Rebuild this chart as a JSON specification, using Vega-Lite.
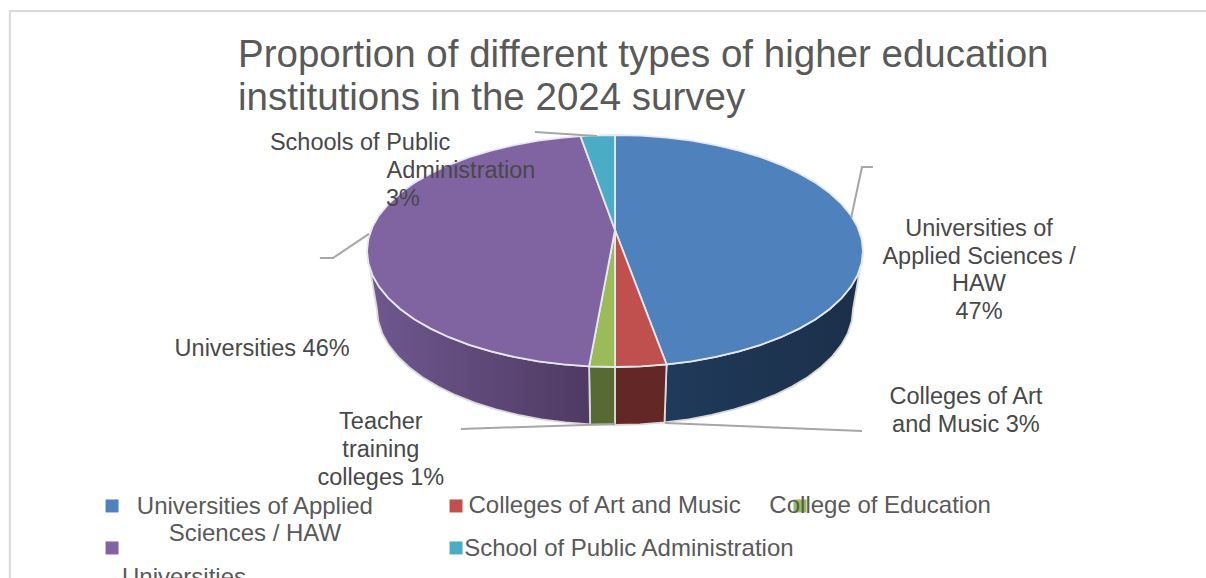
{
"$schema":"https://vega.github.io/schema/vega-lite/v6.json",
"width":1206,"height":578,"autosize":"none","padding":0,"background":"white",
"title":{"text":["Proportion of different types of higher education","institutions in the 2024 survey"],"anchor":"start","frame":"group","dx":238,"offset":-118,"baseline":"top","font":"Liberation Sans","fontSize":38.5,"fontWeight":"normal","color":"#595959","lineHeight":43,"limit":1000},
"config":{"view":{"stroke":null},"font":"Liberation Sans"},
"datasets":{
"top":[
{"slice":"haw","step":0,"x":0,"y":0.181},{"slice":"haw","step":1,"x":0,"y":1},{"slice":"haw","step":2,"x":0.1045,"y":0.9945},{"slice":"haw","step":3,"x":0.2079,"y":0.9781},{"slice":"haw","step":4,"x":0.309,"y":0.9511},{"slice":"haw","step":5,"x":0.4067,"y":0.9135},{"slice":"haw","step":6,"x":0.5,"y":0.866},{"slice":"haw","step":7,"x":0.5878,"y":0.809},{"slice":"haw","step":8,"x":0.6691,"y":0.7431},{"slice":"haw","step":9,"x":0.7431,"y":0.6691},{"slice":"haw","step":10,"x":0.809,"y":0.5878},{"slice":"haw","step":11,"x":0.866,"y":0.5},{"slice":"haw","step":12,"x":0.9135,"y":0.4067},{"slice":"haw","step":13,"x":0.9511,"y":0.309},{"slice":"haw","step":14,"x":0.9781,"y":0.2079},{"slice":"haw","step":15,"x":0.9945,"y":0.1045},{"slice":"haw","step":16,"x":1,"y":0},{"slice":"haw","step":17,"x":0.9945,"y":-0.1045},{"slice":"haw","step":18,"x":0.9781,"y":-0.2079},{"slice":"haw","step":19,"x":0.9511,"y":-0.309},{"slice":"haw","step":20,"x":0.9135,"y":-0.4067},{"slice":"haw","step":21,"x":0.866,"y":-0.5},{"slice":"haw","step":22,"x":0.809,"y":-0.5878},{"slice":"haw","step":23,"x":0.7431,"y":-0.6691},{"slice":"haw","step":24,"x":0.6691,"y":-0.7431},{"slice":"haw","step":25,"x":0.5878,"y":-0.809},{"slice":"haw","step":26,"x":0.5,"y":-0.866},{"slice":"haw","step":27,"x":0.4067,"y":-0.9135},{"slice":"haw","step":28,"x":0.309,"y":-0.9511},{"slice":"haw","step":29,"x":0.2079,"y":-0.9781},
{"slice":"art","step":0,"x":0,"y":0.181},{"slice":"art","step":1,"x":0.2079,"y":-0.9781},{"slice":"art","step":2,"x":0.1045,"y":-0.9945},{"slice":"art","step":3,"x":0,"y":-1},
{"slice":"edu","step":0,"x":0,"y":0.181},{"slice":"edu","step":1,"x":0,"y":-1},{"slice":"edu","step":2,"x":-0.1045,"y":-0.9945},
{"slice":"uni","step":0,"x":0,"y":0.181},{"slice":"uni","step":1,"x":-0.1045,"y":-0.9945},{"slice":"uni","step":2,"x":-0.2079,"y":-0.9781},{"slice":"uni","step":3,"x":-0.309,"y":-0.9511},{"slice":"uni","step":4,"x":-0.4067,"y":-0.9135},{"slice":"uni","step":5,"x":-0.5,"y":-0.866},{"slice":"uni","step":6,"x":-0.5878,"y":-0.809},{"slice":"uni","step":7,"x":-0.6691,"y":-0.7431},{"slice":"uni","step":8,"x":-0.7431,"y":-0.6691},{"slice":"uni","step":9,"x":-0.809,"y":-0.5878},{"slice":"uni","step":10,"x":-0.866,"y":-0.5},{"slice":"uni","step":11,"x":-0.9135,"y":-0.4067},{"slice":"uni","step":12,"x":-0.9511,"y":-0.309},{"slice":"uni","step":13,"x":-0.9781,"y":-0.2079},{"slice":"uni","step":14,"x":-0.9945,"y":-0.1045},{"slice":"uni","step":15,"x":-1,"y":0},{"slice":"uni","step":16,"x":-0.9945,"y":0.1045},{"slice":"uni","step":17,"x":-0.9781,"y":0.2079},{"slice":"uni","step":18,"x":-0.9511,"y":0.309},{"slice":"uni","step":19,"x":-0.9135,"y":0.4067},{"slice":"uni","step":20,"x":-0.866,"y":0.5},{"slice":"uni","step":21,"x":-0.809,"y":0.5878},{"slice":"uni","step":22,"x":-0.7431,"y":0.6691},{"slice":"uni","step":23,"x":-0.6691,"y":0.7431},{"slice":"uni","step":24,"x":-0.5878,"y":0.809},{"slice":"uni","step":25,"x":-0.5,"y":0.866},{"slice":"uni","step":26,"x":-0.4067,"y":0.9135},{"slice":"uni","step":27,"x":-0.309,"y":0.9511},{"slice":"uni","step":28,"x":-0.2079,"y":0.9781},{"slice":"uni","step":29,"x":-0.1392,"y":0.9903},
{"slice":"pub","step":0,"x":0,"y":0.181},{"slice":"pub","step":1,"x":-0.1392,"y":0.9903},{"slice":"pub","step":2,"x":-0.1045,"y":0.9945},{"slice":"pub","step":3,"x":0,"y":1}
],
"side":[
{"slice":"haw","step":0,"x":1,"y":0},{"slice":"haw","step":1,"x":0.9945,"y":-0.1045},{"slice":"haw","step":2,"x":0.9781,"y":-0.2079},{"slice":"haw","step":3,"x":0.9511,"y":-0.309},{"slice":"haw","step":4,"x":0.9135,"y":-0.4067},{"slice":"haw","step":5,"x":0.866,"y":-0.5},{"slice":"haw","step":6,"x":0.809,"y":-0.5878},{"slice":"haw","step":7,"x":0.7431,"y":-0.6691},{"slice":"haw","step":8,"x":0.6691,"y":-0.7431},{"slice":"haw","step":9,"x":0.5878,"y":-0.809},{"slice":"haw","step":10,"x":0.5,"y":-0.866},{"slice":"haw","step":11,"x":0.4067,"y":-0.9135},{"slice":"haw","step":12,"x":0.309,"y":-0.9511},{"slice":"haw","step":13,"x":0.2079,"y":-0.9781},
{"slice":"haw","step":14,"x":0.1996,"y":-1.4781},{"slice":"haw","step":15,"x":0.2966,"y":-1.4511},{"slice":"haw","step":16,"x":0.3904,"y":-1.4135},{"slice":"haw","step":17,"x":0.48,"y":-1.366},{"slice":"haw","step":18,"x":0.5643,"y":-1.309},{"slice":"haw","step":19,"x":0.6423,"y":-1.2431},{"slice":"haw","step":20,"x":0.7134,"y":-1.1691},{"slice":"haw","step":21,"x":0.7766,"y":-1.0878},{"slice":"haw","step":22,"x":0.8314,"y":-1},{"slice":"haw","step":23,"x":0.877,"y":-0.9067},{"slice":"haw","step":24,"x":0.913,"y":-0.809},{"slice":"haw","step":25,"x":0.939,"y":-0.7079},{"slice":"haw","step":26,"x":0.9547,"y":-0.6045},{"slice":"haw","step":27,"x":0.96,"y":-0.5},
{"slice":"art","step":0,"x":0.2079,"y":-0.9781},{"slice":"art","step":1,"x":0.1045,"y":-0.9945},{"slice":"art","step":2,"x":0,"y":-1},{"slice":"art","step":3,"x":0,"y":-1.5},{"slice":"art","step":4,"x":0.1003,"y":-1.4945},{"slice":"art","step":5,"x":0.1996,"y":-1.4781},
{"slice":"edu","step":0,"x":0,"y":-1},{"slice":"edu","step":1,"x":-0.1045,"y":-0.9945},{"slice":"edu","step":2,"x":-0.1003,"y":-1.4945},{"slice":"edu","step":3,"x":0,"y":-1.5},
{"slice":"uni","step":0,"x":-0.1045,"y":-0.9945},{"slice":"uni","step":1,"x":-0.2079,"y":-0.9781},{"slice":"uni","step":2,"x":-0.309,"y":-0.9511},{"slice":"uni","step":3,"x":-0.4067,"y":-0.9135},{"slice":"uni","step":4,"x":-0.5,"y":-0.866},{"slice":"uni","step":5,"x":-0.5878,"y":-0.809},{"slice":"uni","step":6,"x":-0.6691,"y":-0.7431},{"slice":"uni","step":7,"x":-0.7431,"y":-0.6691},{"slice":"uni","step":8,"x":-0.809,"y":-0.5878},{"slice":"uni","step":9,"x":-0.866,"y":-0.5},{"slice":"uni","step":10,"x":-0.9135,"y":-0.4067},{"slice":"uni","step":11,"x":-0.9511,"y":-0.309},{"slice":"uni","step":12,"x":-0.9781,"y":-0.2079},{"slice":"uni","step":13,"x":-0.9945,"y":-0.1045},{"slice":"uni","step":14,"x":-1,"y":0},
{"slice":"uni","step":15,"x":-0.96,"y":-0.5},{"slice":"uni","step":16,"x":-0.9547,"y":-0.6045},{"slice":"uni","step":17,"x":-0.939,"y":-0.7079},{"slice":"uni","step":18,"x":-0.913,"y":-0.809},{"slice":"uni","step":19,"x":-0.877,"y":-0.9067},{"slice":"uni","step":20,"x":-0.8314,"y":-1},{"slice":"uni","step":21,"x":-0.7766,"y":-1.0878},{"slice":"uni","step":22,"x":-0.7134,"y":-1.1691},{"slice":"uni","step":23,"x":-0.6423,"y":-1.2431},{"slice":"uni","step":24,"x":-0.5643,"y":-1.309},{"slice":"uni","step":25,"x":-0.48,"y":-1.366},{"slice":"uni","step":26,"x":-0.3904,"y":-1.4135},{"slice":"uni","step":27,"x":-0.2966,"y":-1.4511},{"slice":"uni","step":28,"x":-0.1996,"y":-1.4781},{"slice":"uni","step":29,"x":-0.1003,"y":-1.4945}
],
"leaders":[
{"id":"haw","step":0,"x":1.04,"y":0.724},{"id":"haw","step":1,"x":0.996,"y":0.724},{"id":"haw","step":2,"x":0.952,"y":0.284},
{"id":"uni","step":0,"x":-1.19,"y":-0.06},{"id":"uni","step":1,"x":-1.137,"y":-0.06},{"id":"uni","step":2,"x":-0.992,"y":0.147},
{"id":"pub","step":0,"x":-0.323,"y":1.026},{"id":"pub","step":1,"x":-0.073,"y":0.991},
{"id":"edu","step":0,"x":-0.621,"y":-1.534},{"id":"edu","step":1,"x":0,"y":-1.491},
{"id":"art","step":0,"x":0.996,"y":-1.552},{"id":"art","step":1,"x":0.202,"y":-1.483}
],
"frame":[{"step":0,"x":-2.44,"y":-2.819},{"step":1,"x":-2.44,"y":2.069},{"step":2,"x":2.383,"y":2.069}],
"labels":[
{"t":"Schools of Public","x":-1.028,"y":0.94},{"t":"Administration","x":-0.621,"y":0.698},{"t":"3%","x":-0.855,"y":0.457},
{"t":"Universities of","x":1.468,"y":0.198},{"t":"Applied Sciences /","x":1.468,"y":-0.043},{"t":"HAW","x":1.468,"y":-0.276},{"t":"47%","x":1.468,"y":-0.517},
{"t":"Universities 46%","x":-1.423,"y":-0.836},
{"t":"Colleges of Art","x":1.415,"y":-1.25},{"t":"and Music 3%","x":1.415,"y":-1.491},
{"t":"Teacher","x":-0.944,"y":-1.466},{"t":"training","x":-0.944,"y":-1.707},{"t":"colleges 1%","x":-0.944,"y":-1.948}
],
"keyText":[
{"t":"Universities of Applied","x":-1.452,"y":-2.198},{"t":"Sciences / HAW","x":-1.452,"y":-2.431},
{"t":"Colleges of Art and Music","x":-0.042,"y":-2.19},{"t":"College of Education","x":1.069,"y":-2.19},
{"t":"School of Public Administration","x":0.056,"y":-2.56},{"t":"Universities","x":-1.738,"y":-2.81}
],
"keySymbols":[
{"slice":"haw","x":-2.028,"y":-2.198},{"slice":"art","x":-0.641,"y":-2.198},{"slice":"edu","x":0.746,"y":-2.198},{"slice":"uni","x":-2.028,"y":-2.56},{"slice":"pub","x":-0.641,"y":-2.56}
]
},
"encoding":{
"x":{"field":"x","type":"quantitative","axis":null,"scale":{"domain":[-2.4798,2.3831],"nice":false,"zero":false}},
"y":{"field":"y","type":"quantitative","axis":null,"scale":{"domain":[-2.819,2.1638],"nice":false,"zero":false}}
},
"layer":[
{"data":{"name":"frame"},"mark":{"type":"line","stroke":"#d9d9d9","strokeWidth":2},"encoding":{"order":{"field":"step"}}},
{"data":{"name":"side"},"transform":[{"filter":"datum.slice==='haw'"}],
 "mark":{"type":"line","interpolate":"linear-closed","stroke":"#d9d9d9","strokeWidth":1.8,"fill":{"gradient":"linear","x1":0,"x2":1,"y1":0,"y2":0,"stops":[{"offset":0,"color":"#203a5c"},{"offset":1,"color":"#1b2f48"}]}},
 "encoding":{"order":{"field":"step"}}},
{"data":{"name":"side"},"transform":[{"filter":"datum.slice==='art'"}],
 "mark":{"type":"line","interpolate":"linear-closed","stroke":"#d9d9d9","strokeWidth":1.8,"fill":"#632825"},
 "encoding":{"order":{"field":"step"}}},
{"data":{"name":"side"},"transform":[{"filter":"datum.slice==='edu'"}],
 "mark":{"type":"line","interpolate":"linear-closed","stroke":"#d9d9d9","strokeWidth":1.8,"fill":"#586a33"},
 "encoding":{"order":{"field":"step"}}},
{"data":{"name":"side"},"transform":[{"filter":"datum.slice==='uni'"}],
 "mark":{"type":"line","interpolate":"linear-closed","stroke":"#d9d9d9","strokeWidth":1.8,"fill":{"gradient":"linear","x1":0,"x2":1,"y1":0,"y2":0,"stops":[{"offset":0,"color":"#6f5890"},{"offset":1,"color":"#4f3a63"}]}},
 "encoding":{"order":{"field":"step"}}},
{"data":{"name":"top"},
 "mark":{"type":"line","interpolate":"linear-closed","stroke":"#e6e9ef","strokeWidth":1.8},
 "encoding":{"order":{"field":"step"},"detail":{"field":"slice"},
  "fill":{"field":"slice","type":"nominal","legend":null,"scale":{"domain":["haw","art","edu","uni","pub"],"range":["#4f81bd","#c0504d","#9bbb59","#8064a2","#4bacc6"]}}}},
{"data":{"name":"leaders"},"mark":{"type":"line","stroke":"#a6a6a6","strokeWidth":2},"encoding":{"order":{"field":"step"},"detail":{"field":"id"}}},
{"data":{"name":"labels"},"mark":{"type":"text","fontSize":23.5,"dy":1,"color":"#484848","font":"Liberation Sans"},"encoding":{"text":{"field":"t"}}},
{"data":{"name":"keySymbols"},"mark":{"type":"point","shape":"square","filled":true,"size":169,"opacity":1},
 "encoding":{"fill":{"field":"slice","type":"nominal","legend":null,"scale":{"domain":["haw","art","edu","uni","pub"],"range":["#4f81bd","#c0504d","#9bbb59","#8064a2","#4bacc6"]}}}},
{"data":{"name":"keyText"},"mark":{"type":"text","fontSize":24,"dy":1,"color":"#595959","font":"Liberation Sans"},"encoding":{"text":{"field":"t"}}}
]
}
